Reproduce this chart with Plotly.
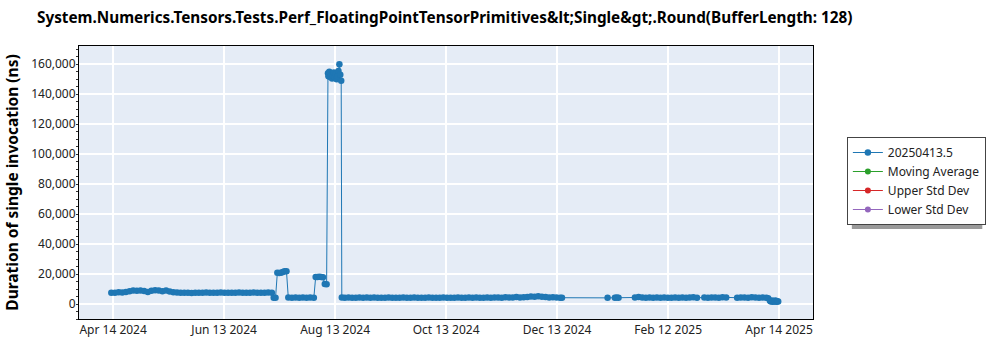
import plotly.graph_objects as go

TITLE = "System.Numerics.Tensors.Tests.Perf_FloatingPointTensorPrimitives&amp;lt;Single&amp;gt;.Round(BufferLength: 128)"
Y_TITLE = "Duration of single invocation (ns)"
SERIES_NAMES = ["20250413.5", "Moving Average", "Upper Std Dev", "Lower Std Dev"]
SERIES_COLORS = ["#1f77b4", "#2ca02c", "#d62728", "#9467bd"]

dates = [
    # spring 2024
    "2024-04-13", "2024-04-15", "2024-04-17", "2024-04-19", "2024-04-21", "2024-04-23",
    "2024-04-25", "2024-04-27", "2024-04-29", "2024-05-01", "2024-05-03", "2024-05-05",
    "2024-05-07", "2024-05-09", "2024-05-11", "2024-05-13", "2024-05-15", "2024-05-17",
    "2024-05-19", "2024-05-21", "2024-05-23", "2024-05-25", "2024-05-27", "2024-05-29",
    "2024-05-31", "2024-06-02", "2024-06-04", "2024-06-06", "2024-06-08", "2024-06-10",
    "2024-06-12", "2024-06-14", "2024-06-16", "2024-06-18", "2024-06-20", "2024-06-22",
    "2024-06-24", "2024-06-26", "2024-06-28", "2024-06-30", "2024-07-02", "2024-07-04",
    "2024-07-06", "2024-07-08", "2024-07-10",
    # July / August steps
    "2024-07-11", "2024-07-12", "2024-07-13", "2024-07-14", "2024-07-15", "2024-07-16",
    "2024-07-17", "2024-07-18", "2024-07-19", "2024-07-21", "2024-07-23", "2024-07-25",
    "2024-07-27", "2024-07-29", "2024-07-31", "2024-08-02", "2024-08-03", "2024-08-04",
    "2024-08-05", "2024-08-06", "2024-08-07", "2024-08-08", "2024-08-09",
    "2024-08-09 18:00", "2024-08-10", "2024-08-10 12:00", "2024-08-11", "2024-08-11 12:00",
    "2024-08-12", "2024-08-12 12:00", "2024-08-13", "2024-08-13 12:00", "2024-08-14",
    "2024-08-14 12:00", "2024-08-15", "2024-08-15 12:00", "2024-08-16", "2024-08-16 12:00",
    "2024-08-17", "2024-08-17 08:00",
    # autumn 2024
    "2024-08-19", "2024-08-21", "2024-08-23", "2024-08-25", "2024-08-27", "2024-08-29",
    "2024-08-31", "2024-09-02", "2024-09-04", "2024-09-06", "2024-09-08", "2024-09-10",
    "2024-09-12", "2024-09-14", "2024-09-16", "2024-09-18", "2024-09-20", "2024-09-22",
    "2024-09-24", "2024-09-26", "2024-09-28", "2024-09-30", "2024-10-02", "2024-10-04",
    "2024-10-06", "2024-10-08", "2024-10-10", "2024-10-12", "2024-10-14", "2024-10-16",
    "2024-10-18", "2024-10-20", "2024-10-22", "2024-10-24", "2024-10-26", "2024-10-28",
    "2024-10-30", "2024-11-01", "2024-11-03", "2024-11-05", "2024-11-07", "2024-11-09",
    "2024-11-11", "2024-11-13", "2024-11-15", "2024-11-17", "2024-11-19", "2024-11-21",
    "2024-11-23", "2024-11-25", "2024-11-27", "2024-11-29", "2024-12-01", "2024-12-03",
    "2024-12-05", "2024-12-07", "2024-12-09", "2024-12-11", "2024-12-13", "2024-12-15",
    "2024-12-16",
    # 2025
    "2025-01-10", "2025-01-14", "2025-01-15", "2025-01-16",
    "2025-01-25", "2025-01-27", "2025-01-29", "2025-01-31", "2025-02-02", "2025-02-04",
    "2025-02-06", "2025-02-08", "2025-02-10", "2025-02-12", "2025-02-14", "2025-02-16",
    "2025-02-18", "2025-02-20", "2025-02-22", "2025-02-24", "2025-02-26", "2025-02-28",
    "2025-03-04", "2025-03-06", "2025-03-08", "2025-03-10", "2025-03-12", "2025-03-14",
    "2025-03-16",
    "2025-03-22", "2025-03-24", "2025-03-26", "2025-03-28", "2025-03-30", "2025-04-01",
    "2025-04-03", "2025-04-05", "2025-04-07", "2025-04-08",
    "2025-04-09", "2025-04-09 12:00", "2025-04-10", "2025-04-10 12:00", "2025-04-11",
    "2025-04-11 12:00", "2025-04-12", "2025-04-12 12:00", "2025-04-13", "2025-04-13 12:00",
]

durations = [
    # spring 2024
    7500, 7600, 7800, 7700, 8000, 8600,
    9000, 8800, 9100, 8700, 8000, 8900,
    9200, 9000, 8600, 9100, 8300, 7900,
    7700, 7600, 7500, 7600, 7400, 7500,
    7600, 7500, 7700, 7500, 7600, 7500,
    7700, 7600, 7500, 7600, 7500, 7700,
    7600, 7500, 7600, 7700, 7600, 7500,
    7600, 7700, 7600,
    # July / August steps
    4200, 4100, 20800, 20700, 20900, 21300,
    21800, 21900, 4300, 4200, 4300, 4200,
    4300, 4200, 4300, 4200, 18000, 18100,
    18200, 18000, 17800, 13300, 13200,
    154000, 152000, 155000, 151500, 153000,
    150500, 152500, 154500, 151000, 153500,
    150000, 152000, 155500, 160000, 153000,
    149000, 4300,
    # autumn 2024
    4200, 4300, 4200, 4100, 4300, 4200,
    4400, 4200, 4300, 4200, 4100, 4200,
    4300, 4200, 4200, 4100, 4300, 4200,
    4200, 4300, 4100, 4200, 4200, 4300,
    4100, 4200, 4200, 4300, 4200, 4100,
    4200, 4300, 4200, 4200, 4400, 4200,
    4300, 4200, 4100, 4300, 4200, 4400,
    4300, 4200, 4500, 4300, 4400, 4600,
    4400, 4500, 4700, 5000, 4800, 5100,
    4900, 4600, 4400, 4500, 4300, 4200,
    4200,
    # 2025
    4100, 4200, 4400, 4200,
    4300, 4600, 4400, 4200, 4300, 4200,
    4400, 4200, 4300, 4200, 4100, 4300,
    4200, 4400, 4200, 4300, 4500, 4200,
    4300, 4200, 4400, 4300, 4200, 4500,
    4300,
    4200, 4400, 4300, 4200, 4500, 4300,
    4200, 4400, 4100, 3800,
    2200, 1700, 2400, 1500, 2000,
    1600, 2300, 1500, 1900, 1600,
]

x_tick_vals = ["2024-04-14 00:00", "2024-06-13 20:00", "2024-08-13 16:00", "2024-10-13 12:00",
               "2024-12-13 08:00", "2025-02-12 04:00", "2025-04-14 00:00"]
x_tick_text = ["Apr 14 2024", "Jun 13 2024", "Aug 13 2024", "Oct 13 2024",
               "Dec 13 2024", "Feb 12 2025", "Apr 14 2025"]

FONT = "Noto Sans"

fig = go.Figure()
fig.add_trace(go.Scatter(
    x=dates, y=durations, mode="lines+markers", name=SERIES_NAMES[0],
    line=dict(color=SERIES_COLORS[0], width=1),
    marker=dict(color=SERIES_COLORS[0], size=6.5),
))
for name, color in zip(SERIES_NAMES[1:], SERIES_COLORS[1:]):
    fig.add_trace(go.Scatter(
        x=[None], y=[None], mode="lines+markers", name=name,
        line=dict(color=color, width=1), marker=dict(color=color, size=6),
    ))

# plot area in pixels: x 76..813, y 46..319
L, R, T, B = 76, 813, 46, 319
W, H = R - L, B - T

def px_x(p):
    return (p - L) / W

def px_y(p):
    return (B - p) / H

fig.add_shape(type="rect", xref="paper", yref="paper",
              x0=px_x(852), x1=px_x(983), y0=px_y(229), y1=px_y(141),
              fillcolor="#9a9a9a", line=dict(width=0), layer="above")

fig.update_layout(
    width=1000, height=350,
    margin=dict(l=L, r=1000 - R, t=T, b=350 - B),
    paper_bgcolor="white", plot_bgcolor="#e5ecf6",
    font=dict(family=FONT, size=12, color="#222"),
    title=dict(text=TITLE, x=37 / 1000, xanchor="left", xref="container",
               y=1 - 18 / 350, yanchor="middle", yref="container",
               font=dict(family=FONT, size=15.3, color="black", weight="bold")),
    showlegend=True,
    legend=dict(x=px_x(847), y=px_y(137), xanchor="left", yanchor="top",
                bgcolor="white", bordercolor="#444", borderwidth=1,
                font=dict(family=FONT, size=12, color="#222")),
    xaxis=dict(
        type="date", range=["2024-03-26 07:00", "2025-05-02 14:00"],
        tickvals=x_tick_vals, ticktext=x_tick_text,
        showgrid=True, gridcolor="white", gridwidth=1.5,
        showline=True, linecolor="black", linewidth=1, mirror=True,
        ticks="", zeroline=False,
    ),
    yaxis=dict(
        range=[-10000, 172200], tickvals=[0, 20000, 40000, 60000, 80000, 100000, 120000, 140000, 160000],
        tickformat=",", showgrid=True, gridcolor="white", gridwidth=1.5,
        showline=True, linecolor="black", linewidth=1, mirror=True,
        ticks="", zeroline=False,
        minor=dict(ticks="outside", ticklen=2, dtick=5000, tickcolor="#333", showgrid=False),
        title=dict(text=Y_TITLE, standoff=8,
                   font=dict(family=FONT, size=15.5, color="black", weight="bold")),
    ),
)

fig.write_html("out.html")
